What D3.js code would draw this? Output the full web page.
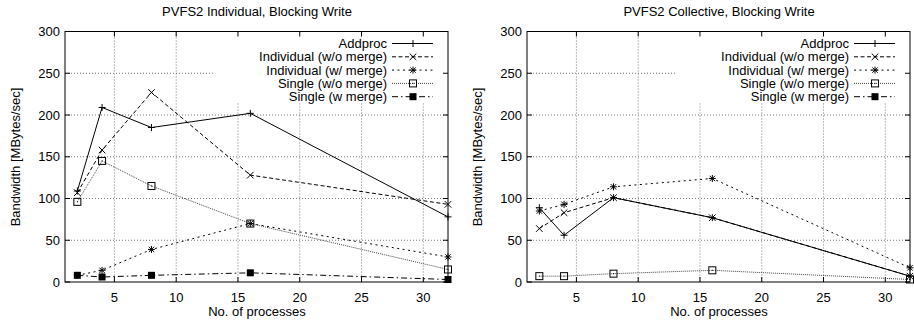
<!DOCTYPE html>
<html>
<head>
<meta charset="utf-8">
<script src="https://cdn.jsdelivr.net/npm/d3@7"></script>
<style>
  body { margin: 0; background: #fff; }
  svg { display: block; }
  text { font-family: "Liberation Sans", Arial, Helvetica, sans-serif; font-size: 13px; fill: #000; }
</style>
</head>
<body>
<svg id="chart" width="914" height="328"></svg>
<script>
// x values (number of processes)
var procs = [2, 4, 8, 16, 32];
var seriesNames = ["Addproc", "Individual (w/o merge)", "Individual (w/ merge)", "Single (w/o merge)", "Single (w merge)"];
var xTicks = [5, 10, 15, 20, 25, 30];
var yTicks = [0, 50, 100, 150, 200, 250, 300];

// left panel: individual
var indAddproc  = [109, 209, 185, 202, 78];
var indWoMerge  = [107, 158, 227, 128, 93];
var indWMerge   = [8, 14, 39, 70, 30];
var indSingleWo = [96, 145, 115, 70, 15];
var indSingleW  = [8, 6, 8, 11, 3];

// right panel: collective (no "Single (w merge)" points visible)
var collAddproc  = [89, 56, 101, 77, 7];
var collWoMerge  = [64, 83, 101, 77, 7];
var collWMerge   = [85, 93, 114, 124, 17];
var collSingleWo = [7, 7, 10, 14, 3];
var collSingleW  = [null, null, null, null, null];

// line / point styles per series
var dashes  = [null, "4,2.5", "2,3.5", "1,1", "6,3,1.5,3"];
var strokes = ["#000", "#000", "#000", "#444", "#000"];
var markers = ["plus", "cross", "star", "box", "fbox"];

var svg = d3.select("#chart");

function drawMarker(g, type, x, y) {
  var s = 3.5;
  if (type == "plus" || type == "star") {
    g.append("line").attr("x1", x - s).attr("x2", x + s).attr("y1", y).attr("y2", y).attr("stroke", "#000");
    g.append("line").attr("x1", x).attr("x2", x).attr("y1", y - s).attr("y2", y + s).attr("stroke", "#000");
  }
  if (type == "cross" || type == "star") {
    var c = type == "star" ? 2.7 : 3.3;
    g.append("line").attr("x1", x - c).attr("x2", x + c).attr("y1", y - c).attr("y2", y + c).attr("stroke", "#000");
    g.append("line").attr("x1", x - c).attr("x2", x + c).attr("y1", y + c).attr("y2", y - c).attr("stroke", "#000");
  }
  if (type == "box") {
    g.append("rect").attr("x", x - 3.5).attr("y", y - 3.5).attr("width", 7).attr("height", 7)
      .attr("fill", "none").attr("stroke", "#000");
    g.append("rect").attr("x", x - 0.5).attr("y", y - 0.5).attr("width", 1).attr("height", 1).attr("fill", "#000");
  }
  if (type == "fbox") {
    g.append("rect").attr("x", x - 3.5).attr("y", y - 3.5).attr("width", 7).attr("height", 7).attr("fill", "#000");
  }
}

function drawPanel(offsetX, title, series) {
  var left = 65, right = 448, top = 31.5, bottom = 282;
  var g = svg.append("g").attr("transform", "translate(" + offsetX + ",0)");

  var x = d3.scaleLinear().domain([1, 32]).range([left, right]);
  var y = d3.scaleLinear().domain([0, 300]).range([bottom, top]);

  // grid
  g.selectAll(".vgrid").data(xTicks).enter().append("line")
    .attr("x1", function(d){ return x(d); }).attr("x2", function(d){ return x(d); })
    .attr("y1", top).attr("y2", bottom)
    .attr("stroke", "#777").attr("stroke-dasharray", "1,2");
  g.selectAll(".hgrid").data(yTicks.slice(1, -1)).enter().append("line")
    .attr("x1", left).attr("x2", right)
    .attr("y1", function(d){ return y(d); }).attr("y2", function(d){ return y(d); })
    .attr("stroke", "#777").attr("stroke-dasharray", "1,2");

  // key background hides grid
  g.append("rect").attr("x", right - 235).attr("y", top + 1).attr("width", 234).attr("height", 102 - top - 1)
    .attr("fill", "#fff");

  // border
  g.append("rect").attr("x", left).attr("y", top).attr("width", right - left).attr("height", bottom - top)
    .attr("fill", "none").attr("stroke", "#000");

  // ticks on all four sides
  xTicks.forEach(function(d){
    g.append("line").attr("x1", x(d)).attr("x2", x(d)).attr("y1", bottom).attr("y2", bottom - 5).attr("stroke", "#000");
    g.append("line").attr("x1", x(d)).attr("x2", x(d)).attr("y1", top).attr("y2", top + 5).attr("stroke", "#000");
  });
  yTicks.forEach(function(d){
    g.append("line").attr("x1", left).attr("x2", left + 5).attr("y1", y(d)).attr("y2", y(d)).attr("stroke", "#000");
    g.append("line").attr("x1", right).attr("x2", right - 5).attr("y1", y(d)).attr("y2", y(d)).attr("stroke", "#000");
  });

  // tick labels
  g.selectAll(".xl").data(xTicks).enter().append("text")
    .attr("x", function(d){ return x(d); }).attr("y", bottom + 20)
    .attr("text-anchor", "middle").text(function(d){ return d; });
  g.selectAll(".yl").data(yTicks).enter().append("text")
    .attr("x", left - 5).attr("y", function(d){ return y(d) + 4.7; })
    .attr("text-anchor", "end").text(function(d){ return d; });

  // titles
  g.append("text").attr("x", 257).attr("y", 16).attr("text-anchor", "middle").text(title);
  g.append("text").attr("x", 257).attr("y", 316).attr("text-anchor", "middle").text("No. of processes");
  g.append("text").attr("transform", "translate(19.5,157) rotate(-90)").attr("text-anchor", "middle")
    .text("Bandwidth [MBytes/sec]");

  // data
  var line = d3.line()
    .defined(function(d){ return d[1] != null; })
    .x(function(d){ return x(d[0]); })
    .y(function(d){ return y(d[1]); });

  series.forEach(function(vals, i){
    var pts = procs.map(function(p, j){ return [p, vals[j]]; });
    g.append("path").datum(pts).attr("d", line)
      .attr("fill", "none").attr("stroke", strokes[i]).attr("stroke-width", 1)
      .attr("stroke-dasharray", dashes[i]);
  });
  series.forEach(function(vals, i){
    procs.forEach(function(p, j){
      if (vals[j] != null) drawMarker(g, markers[i], x(p), y(vals[j]));
    });
  });

  // key
  seriesNames.forEach(function(name, i){
    var ry = 43.5 + i * 13.3;
    g.append("text").attr("x", right - 61).attr("y", ry + 4.5).attr("text-anchor", "end").text(name);
    g.append("line").attr("x1", right - 56).attr("x2", right - 15).attr("y1", ry).attr("y2", ry)
      .attr("stroke", strokes[i]).attr("stroke-dasharray", dashes[i]);
    drawMarker(g, markers[i], right - 35, ry);
  });
}

drawPanel(0, "PVFS2 Individual, Blocking Write",
  [indAddproc, indWoMerge, indWMerge, indSingleWo, indSingleW]);
drawPanel(462, "PVFS2 Collective, Blocking Write",
  [collAddproc, collWoMerge, collWMerge, collSingleWo, collSingleW]);
</script>
</body>
</html>
